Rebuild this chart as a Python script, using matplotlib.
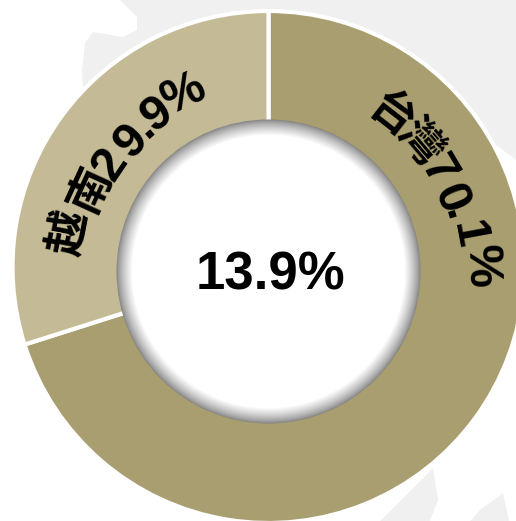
import numpy as np
import matplotlib
matplotlib.use("Agg")
import matplotlib.pyplot as plt
from matplotlib.patches import Circle, Polygon

# shares
labels = ["台灣", "越南"]
values = [70.1, 29.9]
colors = ["#A89E70", "#C4BB96"]
center_text = "13.9%"

# curved labels, one entry per character: text, angle from 12 o'clock, radius
taiwan_chars = ["台", "灣", "7", "0", ".", "1", "%"]
taiwan_angle = [38, 49.7, 59.4, 68, 73.2, 79.5, 88.5]
taiwan_r = [198, 198, 196, 195, 198, 203, 212]
vietnam_chars = ["越", "南", "2", "9", ".", "9", "%"]
vietnam_angle = [-79, -65.5, -56, -46.5, -40.5, -35.5, -25.5]
vietnam_r = [202, 195, 191, 189, 192, 192, 196]

# faint map behind the ring, in image pixels
map_shapes = [
    [(120, 0), (137, 17), (137, 30), (123, 37), (93, 32), (85, 43), (82, 70), (83, 90), (268, 90), (268, 0)],
    [(268, 0), (516, 0), (516, 160), (499, 147), (400, 100), (268, 60)],
    [(380, 521), (433, 468), (438, 500), (430, 521)],
    [(470, 521), (480, 510), (503, 493), (509, 521)],
]

plt.rcParams['font.family'] = ['Liberation Sans', 'Noto Sans CJK TC', 'DejaVu Sans']

W, H = 516, 521
fig = plt.figure(figsize=(5.16, 5.21), dpi=100)
ax = fig.add_axes([0, 0, 1, 1])

def flip(py):
    return H - py

ring_x, ring_y, ring_r = 268.5, 267, 256
hole_x, hole_y, hole_r = 268.5, 271.5, 152

for shape in map_shapes:
    ax.add_patch(Polygon([(x, flip(y)) for x, y in shape], closed=True, color="#F0F0F0", lw=0, zorder=0))

ax.pie(values, colors=colors, startangle=90, counterclock=False,
       center=(ring_x, flip(ring_y)), radius=ring_r, frame=True,
       wedgeprops=dict(width=ring_r - hole_r + 20, edgecolor="white", linewidth=3))

# inner bevel, darker at the rim
grid_y, grid_x = np.mgrid[0:H, 0:W]
dist = np.hypot(grid_x + 0.5 - hole_x, H - grid_y - 0.5 - flip(hole_y))
shade = np.clip((hole_r - dist) / 16, 0, 1) ** 0.75
shade = 0.5 + 0.5 * shade
img = ax.imshow(shade, cmap="gray", vmin=0, vmax=1, extent=(0, W, 0, H), origin="upper",
                zorder=3, interpolation="bilinear")
img.set_clip_path(Circle((hole_x, flip(hole_y)), hole_r, transform=ax.transData))

ax.set_xlim(0, W)
ax.set_ylim(0, H)
ax.set_aspect("equal")
ax.axis("off")

ax.text(270, flip(276), center_text, fontsize=38, fontweight="bold", ha="center", va="center", zorder=5)

for chars, angles, radii in [(taiwan_chars, taiwan_angle, taiwan_r), (vietnam_chars, vietnam_angle, vietnam_r)]:
    for ch, a, r in zip(chars, angles, radii):
        t = np.radians(a)
        size = 32 if ord(ch) > 255 else 35
        ax.text(hole_x + r * np.sin(t), flip(hole_y) + r * np.cos(t), ch, rotation=-a, rotation_mode="anchor",
                fontsize=size, fontweight="bold", ha="center", va="center", zorder=5)

fig.savefig("out.png", dpi=100)
